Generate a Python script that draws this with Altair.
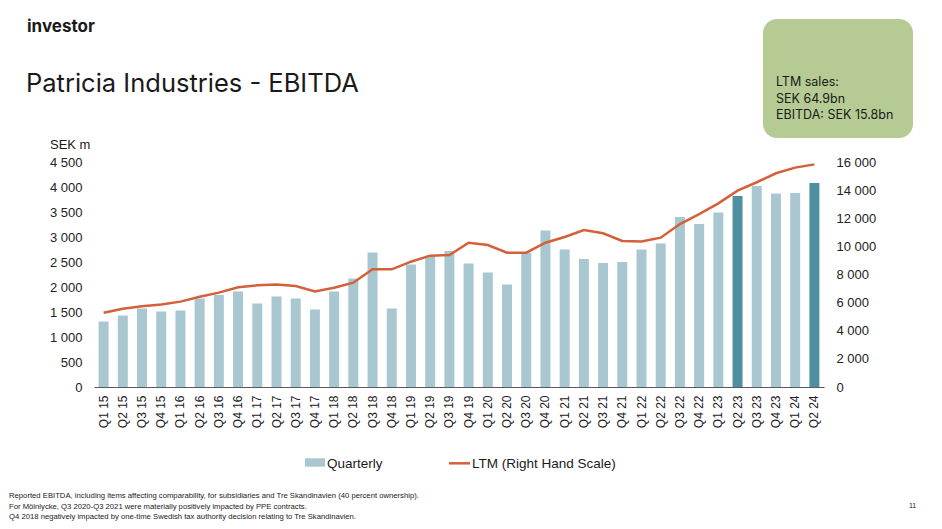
import altair as alt
import pandas as pd

quarters = ["Q1 15", "Q2 15", "Q3 15", "Q4 15", "Q1 16", "Q2 16", "Q3 16", "Q4 16",
            "Q1 17", "Q2 17", "Q3 17", "Q4 17", "Q1 18", "Q2 18", "Q3 18", "Q4 18",
            "Q1 19", "Q2 19", "Q3 19", "Q4 19", "Q1 20", "Q2 20", "Q3 20", "Q4 20",
            "Q1 21", "Q2 21", "Q3 21", "Q4 21", "Q1 22", "Q2 22", "Q3 22", "Q4 22",
            "Q1 23", "Q2 23", "Q3 23", "Q4 23", "Q1 24", "Q2 24"]
quarterly = [1310, 1430, 1570, 1510, 1530, 1770, 1840, 1910, 1670, 1810, 1770, 1550,
             1910, 2170, 2690, 1570, 2450, 2630, 2720, 2470, 2290, 2050, 2690, 3130,
             2750, 2560, 2480, 2500, 2750, 2870, 3400, 3260, 3490, 3820, 4020, 3870,
             3880, 4080]
ltm = [5280, 5570, 5740, 5860, 6070, 6420, 6710, 7090, 7230, 7280, 7180, 6800,
       7060, 7420, 8370, 8370, 8910, 9340, 9380, 10260, 10100, 9550, 9550, 10260,
       10670, 11160, 10930, 10380, 10340, 10620, 11590, 12300, 13060, 13960, 14560,
       15200, 15600, 15830]
highlighted = ["Q2 23", "Q2 24"]
left_ticks = [0, 500, 1000, 1500, 2000, 2500, 3000, 3500, 4000, 4500]
right_ticks = [0, 2000, 4000, 6000, 8000, 10000, 12000, 14000, 16000]

title = "Patricia Industries - EBITDA"
box_lines = ["LTM sales:", "SEK 64.9bn", "EBITDA: SEK 15.8bn"]
footnotes = [
    "Reported EBITDA, including items affecting comparability, for subsidiaries and Tre Skandinavien (40 percent ownership).",
    "For Mölnlycke, Q3 2020-Q3 2021 were materially positively impacted by PPE contracts.",
    "Q4 2018 negatively impacted by one-time Swedish tax authority decision relating to Tre Skandinavien.",
]

LIGHT = "#a9c7d0"
DARK = "#4f8fa2"
LINE = "#d4603a"
GREEN = "#b5cb93"
FONT = "Liberation Sans"
TFONT = "Inter"

df = pd.DataFrame({"quarter": quarters, "quarterly": quarterly, "ltm": ltm,
                   "hl": [q in highlighted for q in quarters]})

fmt = "replace(format(datum.value, ','), ',', ' ')"

xenc = alt.X("quarter:N", sort=quarters,
             scale=alt.Scale(paddingInner=0.48, paddingOuter=0.24),
             axis=alt.Axis(title=None, labelAngle=-90, labelPadding=8, ticks=False,
                           domainColor="#595959", domainWidth=1.2, labelFontSize=12,
                           labelFont=FONT, labelColor="#222222"))

bars = alt.Chart(df).mark_bar().encode(
    x=xenc,
    y=alt.Y("quarterly:Q", scale=alt.Scale(domain=[0, 4500], nice=False),
            axis=alt.Axis(orient="left", values=left_ticks, title=None, ticks=False,
                          domain=False, grid=False, labelPadding=12, labelExpr=fmt,
                          labelFontSize=13, labelFont=FONT, labelColor="#222222")),
    color=alt.condition("datum.hl", alt.value(DARK), alt.value(LIGHT)),
)

line = alt.Chart(df).mark_line(color=LINE, strokeWidth=2.5).encode(
    x=xenc,
    y=alt.Y("ltm:Q", scale=alt.Scale(domain=[0, 16000], nice=False),
            axis=alt.Axis(orient="right", values=right_ticks, title=None, ticks=False,
                          domain=False, grid=False, labelPadding=12, labelExpr=fmt,
                          labelFontSize=13, labelFont=FONT, labelColor="#222222")),
)


def txt(s, x, y, size, font=FONT, weight="normal", align="left", color="#1a1a1a"):
    return alt.Chart(pd.DataFrame({"t": [s]})).mark_text(
        align=align, baseline="alphabetic", font=font, fontSize=size,
        fontWeight=weight, color=color
    ).encode(x=alt.value(x), y=alt.value(y), text="t:N")


one = pd.DataFrame({"a": [1]})
box = alt.Chart(one).mark_rect(color=GREEN, cornerRadius=14).encode(
    x=alt.value(669), x2=alt.value(819), y=alt.value(-143), y2=alt.value(-24))

leg_rect = alt.Chart(one).mark_rect(color=LIGHT).encode(
    x=alt.value(211), x2=alt.value(231), y=alt.value(296.3), y2=alt.value(304.7))
leg_line = alt.Chart(one).mark_rule(color=LINE, strokeWidth=2.5).encode(
    x=alt.value(355), x2=alt.value(376), y=alt.value(301.3))

layers = [bars, line, box, leg_rect, leg_line,
          txt("investor", -67, -130, 17, font=TFONT, weight="bold"),
          txt(title, -68, -70, 25.5, font=TFONT),
          txt("SEK m", -44, -13, 13),
          txt("Quarterly", 233, 306, 13.5),
          txt("LTM (Right Hand Scale)", 378, 306, 13.5),
          txt("11", 815, 346, 7)]
for i, s in enumerate(box_lines):
    layers.append(txt(s, 682, -76 + 16.5 * i, 12.5, font=TFONT))
for i, s in enumerate(footnotes):
    layers.append(txt(s, -85, 336 + 10.5 * i, 7.7))

chart = alt.layer(*layers).resolve_scale(y="independent").properties(
    width=730, height=225,
    autosize=alt.AutoSizeParams(type="none"),
    padding={"left": 86, "top": 154, "right": 110, "bottom": 134},
).configure_view(stroke=None)

chart.save("out.html", embed_options={"renderer": "svg", "actions": False})
